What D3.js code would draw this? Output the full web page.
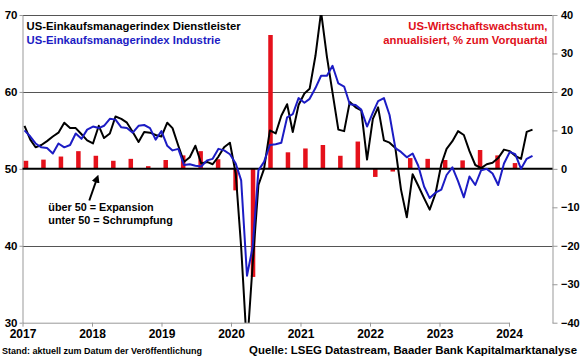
<!DOCTYPE html>
<html>
<head>
<meta charset="utf-8">
<script src="https://cdn.jsdelivr.net/npm/d3@7"></script>
<style>
  body { margin: 0; background: #fff; }
  svg { display: block; font-family: "Liberation Sans", Arial, sans-serif; font-weight: bold; }
</style>
</head>
<body>
<div class="chart"></div>
<script>
// monthly PMI, Jan 2017 - Jun 2024
const services = [
  55.6, 53.8, 52.8, 53.1, 53.6, 54.2, 54.7, 56.0, 55.3, 55.3, 54.5, 53.7,
  53.3, 55.6, 54.0, 54.6, 56.8, 56.5, 56.0, 54.8, 53.5, 54.8, 54.7, 54.4,
  54.2, 56.0, 55.3, 53.0, 50.9, 51.5, 53.0, 50.7, 50.9, 50.6, 51.6, 52.8,
  53.4, 49.4, 39.8, 26.7, 37.5, 47.9, 50.0, 55.0, 54.6, 56.9, 58.4, 54.8,
  58.3, 59.8, 60.4, 64.7, 70.4, 64.6, 59.9, 55.1, 54.9, 58.7, 58.0, 57.6,
  51.2, 56.5, 58.0, 53.7, 53.4, 52.7, 47.3, 43.7, 49.3, 47.8, 46.2, 44.7,
  46.8, 50.6, 52.6, 53.6, 54.9, 54.4, 52.3, 50.5, 50.1, 50.6, 50.8, 51.4,
  52.5, 52.3, 51.7, 51.3, 54.8, 55.1
];
const manufacturing = [
  55.0, 54.2, 53.3, 52.8, 52.7, 52.0, 53.3, 52.8, 53.1, 54.6, 53.9, 55.1,
  55.5, 55.3, 55.6, 56.5, 56.4, 55.4, 55.3, 54.7, 55.6, 55.7, 55.3, 53.8,
  54.9, 53.0, 52.4, 52.6, 50.5, 50.6, 50.4, 50.3, 51.1, 51.3, 52.6, 52.4,
  51.9, 50.7, 48.5, 36.1, 39.8, 49.8, 50.9, 53.1, 53.2, 53.4, 56.7, 57.1,
  59.2, 58.6, 59.1, 60.5, 62.1, 62.1, 63.4, 61.1, 60.7, 58.4, 58.3, 57.7,
  55.5, 57.3, 58.8, 59.2, 57.0, 52.7, 52.2, 51.5, 52.0, 50.4, 47.7, 46.2,
  46.9, 47.3, 49.2, 50.2, 48.4, 46.3, 49.0, 47.9, 49.8, 50.0, 49.4, 47.9,
  50.7, 52.2, 51.9, 50.0, 51.3, 51.7
];
const firstMonth = new Date(2017, 0, 1);

const quarters = [
  '2017Q1', '2017Q2', '2017Q3', '2017Q4', '2018Q1', '2018Q2', '2018Q3', '2018Q4',
  '2019Q1', '2019Q2', '2019Q3', '2019Q4', '2020Q1', '2020Q2', '2020Q3', '2020Q4',
  '2021Q1', '2021Q2', '2021Q3', '2021Q4', '2022Q1', '2022Q2', '2022Q3', '2022Q4',
  '2023Q1', '2023Q2', '2023Q3', '2023Q4', '2024Q1'
];
const gdp = [
  2.1, 2.4, 3.2, 4.6, 3.4, 2.1, 2.6, 0.7,
  2.3, 3.5, 4.6, 2.5, -5.6, -28.1, 34.8, 4.3,
  5.3, 6.2, 3.4, 7.1, -2.1, -0.7, 2.8, 2.6,
  2.3, 2.2, 4.9, 3.5, 1.5
];

const years = ['2017', '2018', '2019', '2020', '2021', '2022', '2023', '2024'];
const leftTicks = [30, 40, 50, 60, 70];
const rightTicks = [-40, -30, -20, -10, 0, 10, 20, 30, 40];
const gridTicks = [40, 60, 70];

let margin = { top: 15, right: 27.5, bottom: 36.3, left: 22.5 };
let width = 580 - margin.left - margin.right;
let height = 359 - margin.top - margin.bottom;

let d3Svg = d3.select('.chart')
  .append('svg')
    .attr('width', 580)
    .attr('height', 359);

let svg = d3Svg.append('g')
  .attr('transform', 'translate(' + margin.left + ', ' + margin.top + ')');

let months = services.map((v, i) => d3.timeMonth.offset(firstMonth, i));

let xLine = d3.scaleTime()
  .domain([months[0], months[months.length - 1]])
  .range([2, 510]);
let xBar = d3.scalePoint()
  .domain(quarters)
  .range([3.5, 492.5]);
let xYear = d3.scalePoint()
  .domain(years)
  .range([0, 486.5]);
let yLeft = d3.scaleLinear().domain([30, 70]).range([height, 0]);
let yRight = d3.scaleLinear().domain([-40, 40]).range([height, 0]);

svg.append('defs').append('clipPath')
    .attr('id', 'plot')
  .append('rect')
    .attr('width', width)
    .attr('height', height);

svg.selectAll('.grid')
  .data(gridTicks)
  .enter()
  .append('line')
    .attr('class', 'grid')
    .attr('x1', 0)
    .attr('x2', width)
    .attr('y1', d => Math.round(yLeft(d)) + 0.5)
    .attr('y2', d => Math.round(yLeft(d)) + 0.5)
    .attr('stroke', '#555')
    .attr('stroke-width', 1);

let yAxis = d3.axisLeft(yLeft)
  .tickValues(leftTicks)
  .tickSize(3)
  .tickSizeOuter(0)
  .tickPadding(2);
let y2Axis = d3.axisRight(yRight)
  .tickValues(rightTicks)
  .tickSize(5)
  .tickSizeOuter(0)
  .tickPadding(3.5);
let xAxis = d3.axisBottom(xYear)
  .tickSize(4)
  .tickSizeOuter(0)
  .tickPadding(3);

let gLeft = svg.append('g').call(yAxis);
let gRight = svg.append('g').attr('transform', `translate(${width}, 0)`).call(y2Axis);
let gBottom = svg.append('g').attr('transform', `translate(0, ${height})`).call(xAxis);

svg.selectAll('.domain, .tick line').attr('stroke', '#999');
svg.selectAll('.tick text')
  .attr('fill', '#000')
  .style('font-size', '12px')
  .style('font-family', '"Liberation Sans", Arial, sans-serif')
  .style('font-weight', 'bold');
gRight.selectAll('.tick text').style('font-size', '11px');
gLeft.selectAll('.tick text').style('font-size', '11.5px').attr('dy', '0.3em');

svg.selectAll('.bar')
  .data(gdp)
  .enter()
  .append('rect')
    .attr('class', 'bar')
    .attr('x', (d, i) => xBar(quarters[i]) - 2.25)
    .attr('y', d => yRight(Math.max(0, d)))
    .attr('width', 4.5)
    .attr('height', d => Math.abs(yRight(d) - yRight(0)))
    .attr('fill', '#e5111b');

svg.append('line')
  .attr('x1', 0)
  .attr('x2', width)
  .attr('y1', yLeft(50))
  .attr('y2', yLeft(50))
  .attr('stroke', '#000')
  .attr('stroke-width', 2);

let line = d3.line()
  .x((d, i) => xLine(months[i]))
  .y(d => yLeft(d));

svg.append('path')
  .datum(services)
  .attr('clip-path', 'url(#plot)')
  .attr('fill', 'none')
  .attr('stroke', '#000')
  .attr('stroke-width', 2)
  .attr('stroke-linejoin', 'round')
  .attr('d', line);

svg.append('path')
  .datum(manufacturing)
  .attr('clip-path', 'url(#plot)')
  .attr('fill', 'none')
  .attr('stroke', '#1c1cc4')
  .attr('stroke-width', 2)
  .attr('stroke-linejoin', 'round')
  .attr('d', line);

// labels
let texts = [
  { t: 'US-Einkaufsmanagerindex Dienstleister', x: 26.5, y: 29.5, s: 11.3, c: '#000', a: 'start' },
  { t: 'US-Einkaufsmanagerindex Industrie', x: 26.5, y: 44.3, s: 11.3, c: '#1c1cc4', a: 'start' },
  { t: 'US-Wirtschaftswachstum,', x: 547.5, y: 30.3, s: 11.3, c: '#e0101a', a: 'end' },
  { t: 'annualisiert, % zum Vorquartal', x: 547.5, y: 44.3, s: 11.3, c: '#e0101a', a: 'end' },
  { t: 'über 50 = Expansion', x: 48.3, y: 211, s: 10.8, c: '#000', a: 'start' },
  { t: 'unter 50 = Schrumpfung', x: 48.3, y: 224, s: 10.8, c: '#000', a: 'start' },
  { t: 'Stand: aktuell zum Datum der Veröffentlichung', x: 2, y: 354, s: 9, c: '#000', a: 'start' },
  { t: 'Quelle: LSEG Datastream, Baader Bank Kapitalmarktanalyse', x: 577, y: 353.5, s: 11.4, c: '#000', a: 'end' }
];

d3Svg.selectAll('.label')
  .data(texts)
  .enter()
  .append('text')
    .attr('class', 'label')
    .attr('x', d => d.x)
    .attr('y', d => d.y)
    .attr('text-anchor', d => d.a)
    .attr('fill', d => d.c)
    .style('font-size', d => d.s + 'px')
    .text(d => d.t);

d3Svg.append('defs').append('marker')
    .attr('id', 'arrow')
    .attr('viewBox', '0 0 10 10')
    .attr('refX', 5)
    .attr('refY', 5)
    .attr('markerWidth', 4)
    .attr('markerHeight', 4)
    .attr('orient', 'auto')
  .append('path')
    .attr('d', 'M0,0 L10,5 L0,10 z')
    .attr('fill', '#000');

d3Svg.append('line')
  .attr('x1', 89.3)
  .attr('y1', 200.5)
  .attr('x2', 97)
  .attr('y2', 178.5)
  .attr('stroke', '#000')
  .attr('stroke-width', 2)
  .attr('marker-end', 'url(#arrow)');
</script>
</body>
</html>
